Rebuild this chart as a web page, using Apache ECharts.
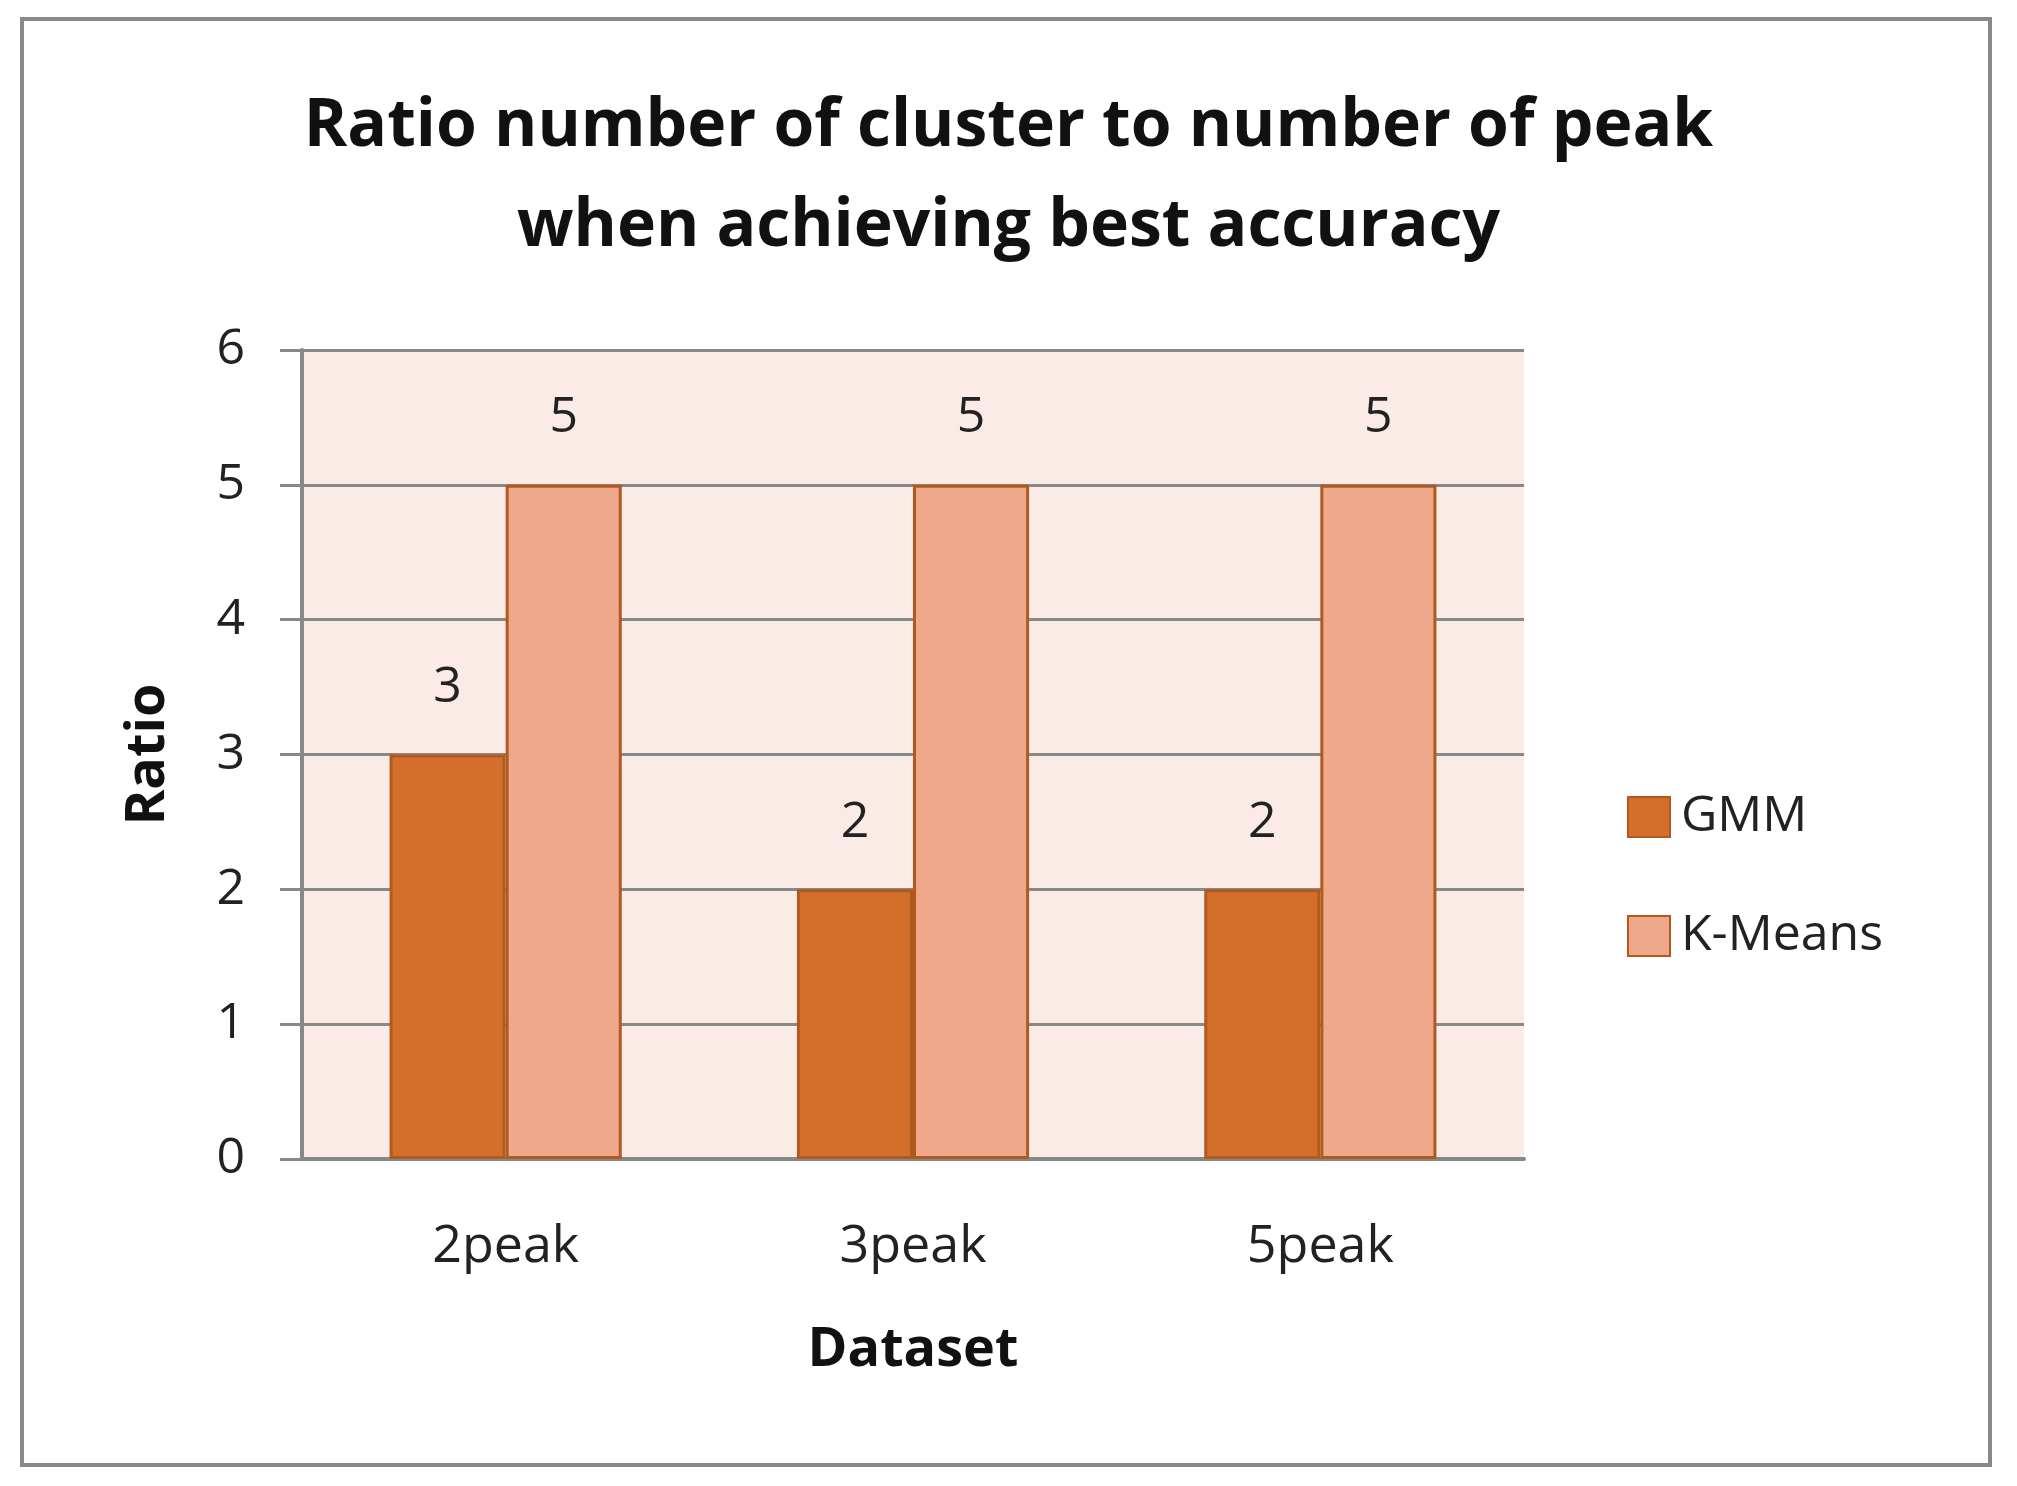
<!DOCTYPE html>
<html>
<head>
<meta charset="utf-8">
<script src="https://cdn.jsdelivr.net/npm/echarts@6/dist/echarts.min.js"></script>
<style>
html,body{margin:0;padding:0;background:#fff;}
#chart{width:2017px;height:1486px;}
</style>
</head>
<body>
<div id="chart"></div>
<script>
const categories = ['2peak', '3peak', '5peak'];
const gmmValues = [3, 2, 2];
const kmeansValues = [5, 5, 5];
const seriesNames = ['GMM', 'K-Means'];
const yTicks = [0, 1, 2, 3, 4, 5, 6];

const FONT = '"Open Sans", Lato, sans-serif';
const chart = echarts.init(document.getElementById('chart'));
const option = {
  backgroundColor: '#ffffff',
  animation: false,
  graphic: [{
    type: 'rect',
    shape: { x: 22, y: 19, width: 1968, height: 1446 },
    style: { fill: 'none', stroke: '#888888', lineWidth: 4 },
    silent: true
  }],
  title: {
    text: 'Ratio number of cluster to number of peak\nwhen achieving best accuracy',
    left: 'center',
    top: 77,
    padding: 0,
    textStyle: {
      fontFamily: FONT,
      fontWeight: 'bold',
      fontSize: 66,
      lineHeight: 100,
      color: '#111111'
    }
  },
  legend: {
    orient: 'vertical',
    left: 1627,
    top: 792,
    padding: 0,
    itemWidth: 42,
    itemHeight: 40,
    itemGap: 69,
    icon: 'rect',
    data: seriesNames,
    textStyle: {
      fontFamily: FONT,
      fontSize: 50,
      lineHeight: 40,
      color: '#222222',
      padding: [0, 0, 0, 6]
    }
  },
  grid: {
    left: 302,
    right: 493,
    top: 350,
    bottom: 327,
    show: true,
    backgroundColor: '#FAEBE6',
    borderWidth: 0
  },
  xAxis: {
    type: 'category',
    data: categories,
    name: 'Dataset',
    nameLocation: 'middle',
    nameGap: 165,
    nameTextStyle: {
      fontFamily: FONT, fontWeight: 'bold', fontSize: 54, color: '#111111'
    },
    axisLine: { show: true, lineStyle: { color: '#888888', width: 4 } },
    axisTick: { show: false },
    axisLabel: {
      margin: 62,
      fontFamily: FONT, fontSize: 52, color: '#222222'
    }
  },
  yAxis: {
    type: 'value',
    min: 0,
    max: 6,
    interval: 1,
    name: 'Ratio',
    nameLocation: 'middle',
    nameGap: 126,
    nameTextStyle: {
      fontFamily: FONT, fontWeight: 'bold', fontSize: 54, color: '#111111'
    },
    axisLine: { show: true, lineStyle: { color: '#888888', width: 4 } },
    axisTick: { show: true, length: 22, lineStyle: { color: '#888888', width: 3 } },
    axisLabel: {
      margin: 57,
      fontFamily: FONT, fontSize: 50, color: '#222222',
      formatter: function (v) { return yTicks.indexOf(v) >= 0 ? String(v) : ''; }
    },
    splitLine: { show: true, lineStyle: { color: '#888888', width: 3 } }
  },
  series: [
    {
      name: seriesNames[0],
      type: 'bar',
      data: gmmValues,
      barGap: '0%',
      barCategoryGap: '43%',
      itemStyle: { color: '#D36E2B', borderColor: '#B05A1F', borderWidth: 3 },
      label: {
        show: true, position: 'top', distance: 42,
        fontFamily: FONT, fontSize: 50, color: '#222222'
      }
    },
    {
      name: seriesNames[1],
      type: 'bar',
      data: kmeansValues,
      itemStyle: { color: '#F0A88A', borderColor: '#B05A1F', borderWidth: 3 },
      label: {
        show: true, position: 'top', distance: 42,
        fontFamily: FONT, fontSize: 50, color: '#222222'
      }
    }
  ]
};
chart.setOption(option);
</script>
</body>
</html>
